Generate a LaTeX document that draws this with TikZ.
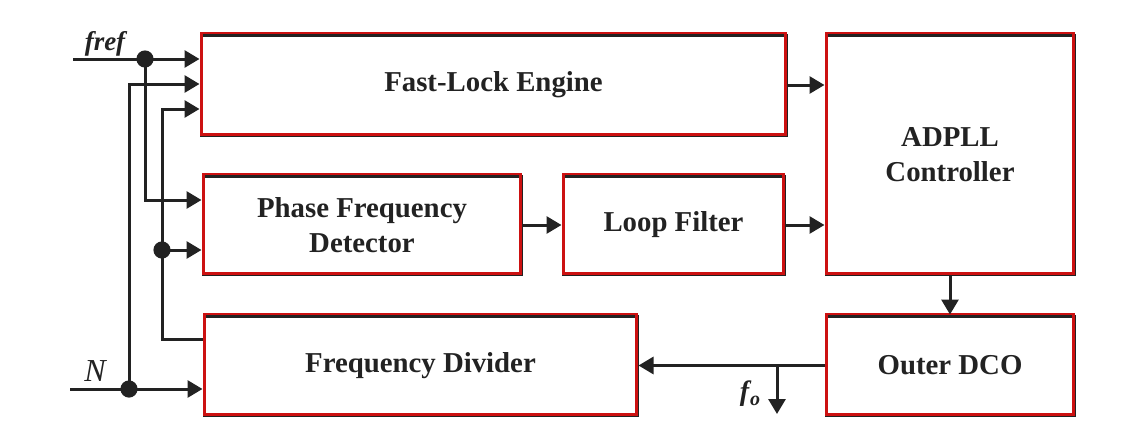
\documentclass[tikz,border=0pt]{standalone}
\usepackage{fontspec}
\setmainfont{Liberation Serif}
\usetikzlibrary{arrows.meta}
\definecolor{ink}{HTML}{222222}
\definecolor{boxred}{HTML}{CC1111}
\begin{document}
\begin{tikzpicture}[x=0.5pt,y=-0.5pt,
  line width=1.5pt, draw=ink,
  box/.style={draw=ink, line width=1.5pt, inner sep=0pt, align=center,
    font=\fontsize{14.4}{17.5}\selectfont\bfseries, text=ink},
  arr/.style={-{Triangle[length=7.5pt,width=8.5pt]}, draw=ink, line width=1.5pt},
  wire/.style={draw=ink, line width=1.5pt},
  redline/.style={draw=boxred, line width=1.25pt},
  dot/.style={circle, fill=ink, inner sep=0pt, minimum size=8.6pt},
  lab/.style={text=ink, inner sep=0pt}]
\useasboundingbox (0,0) rectangle (1133,439);
% blocks
\node[box, minimum width=292.5pt, minimum height=50pt] (fle) at (493.5,85) {Fast-Lock Engine};
\node[box, minimum width=124pt, minimum height=119.5pt] (adpll) at (950,154.5) {ADPLL\\Controller};
\node[box, minimum width=159pt, minimum height=49pt] (pfd) at (362,225) {Phase Frequency\\Detector};
\node[box, minimum width=110.5pt, minimum height=49pt] (lf) at (673.5,225) {Loop Filter};
\node[box, minimum width=216.5pt, minimum height=49.5pt] (fd) at (420.5,365.5) {Frequency Divider};
\node[box, minimum width=124pt, minimum height=49.5pt] (dco) at (950,365.5) {Outer DCO};
\foreach \n in {fle,adpll,pfd,lf,fd,dco}
  \draw[redline] ([xshift=1.1pt,yshift=0.3pt]\n.north west) rectangle ([xshift=-1.1pt,yshift=0.9pt]\n.south east);
% inputs
\coordinate (frefin) at (73,59);
\coordinate (nin) at (70,389);
\node[dot] (d1) at (145,59) {};
\node[dot] (dN) at (129,389) {};
\node[dot] (d2) at (162,250) {};
\node[lab, font=\fontsize{13.5}{16}\selectfont\bfseries\itshape] (lfref) at (105,44) {fref};
\node[lab, font=\fontsize{16}{18}\selectfont\itshape] (lN) at (95,371) {N};
\draw[wire] (frefin) -- (d1.center);
\draw[arr] (d1.center) -- (d1 -| fle.west);
\draw[arr] (d1.center) |- ([yshift=12.5pt]pfd.west);
\draw[wire] (nin) -- (dN.center);
\draw[arr] (dN.center) -- (dN -| fd.west);
\draw[arr] (dN.center) |- ([yshift=0.5pt]fle.west);
\draw[arr] (d2.center) -- (d2 -| pfd.west);
\draw[arr] (d2.center) |- ([yshift=-12pt]fle.west);
\draw[wire] (d2.center) |- ([yshift=13.25pt]fd.west);
% forward path
\draw[arr] (fle.east) -- (fle.east -| adpll.west);
\draw[arr] (pfd.east) -- (pfd.east -| lf.west);
\draw[arr] (lf.east) -- (lf.east -| adpll.west);
\draw[arr] (adpll.south) -- (dco.north);
\draw[arr] (dco.west) -- (dco.west -| fd.east);
\coordinate (fo) at (777,365.5);
\coordinate (foend) at (777,414);
\draw[arr] (fo) -- (foend);
\node[lab, font=\fontsize{14}{16}\selectfont\bfseries\itshape] (lfo) at (750,394) {f\kern0.5pt\raisebox{-0.35ex}{\fontsize{10}{12}\selectfont o}};
\end{tikzpicture}
\end{document}
